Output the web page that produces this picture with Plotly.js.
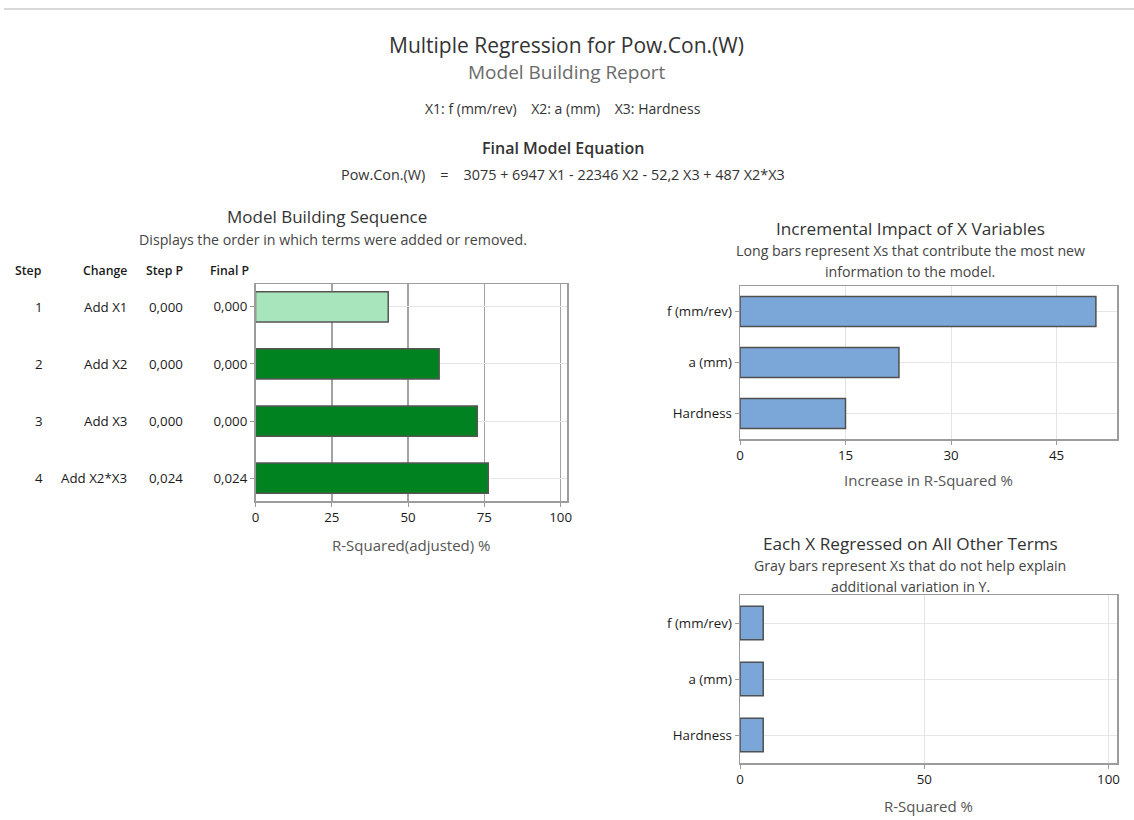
<!DOCTYPE html>
<html>
<head>
<meta charset="utf-8">
<script src="https://cdn.plot.ly/plotly-3.0.1.min.js"></script>
<style>
html,body{margin:0;padding:0;background:#fff;}
#chart{width:1134px;height:820px;}
</style>
</head>
<body>
<div id="chart"></div>
<script>
// ---- data ----
const steps = ['1', '2', '3', '4'];
const changes = ['Add X1', 'Add X2', 'Add X3', 'Add X2*X3'];
const stepP = ['0,000', '0,000', '0,000', '0,024'];
const finalP = ['0,000', '0,000', '0,000', '0,024'];
const rsqAdjusted = [43.5, 60.2, 72.7, 76.3];

const xVariables = ['f (mm/rev)', 'a (mm)', 'Hardness'];
const incrementalImpact = [50.6, 22.6, 15.0];
const rsqOnOthers = [6.3, 6.3, 6.3];

// ---- helpers ----
const W = 1134, H = 820;
const px = x => x / W;
const py = y => 1 - y / H;
const FONT = 'Open Sans, Noto Sans, sans-serif';
const stepIdx = steps.map((s, i) => i);
const NB = '&nbsp;';

const seqColors = steps.map((s, i) => i === 0 ? '#a8e5bc' : '#008220');

const traces = [
  {
    type: 'bar', orientation: 'h',
    x: rsqAdjusted, y: stepIdx,
    xaxis: 'x', yaxis: 'y',
    width: 0.53,
    marker: {color: seqColors, line: {color: '#555555', width: 1.5}},
    hoverinfo: 'x'
  },
  {
    type: 'bar', orientation: 'h',
    x: incrementalImpact, y: xVariables,
    xaxis: 'x2', yaxis: 'y2',
    width: 0.59,
    marker: {color: '#7ba6d8', line: {color: '#505050', width: 1.5}},
    hoverinfo: 'x'
  },
  {
    type: 'bar', orientation: 'h',
    x: rsqOnOthers, y: xVariables,
    xaxis: 'x3', yaxis: 'y3',
    width: 0.6,
    marker: {color: '#7ba6d8', line: {color: '#505050', width: 1.5}},
    hoverinfo: 'x'
  }
];

const tickFont = {family: FONT, size: 13.3, color: '#1a1a1a'};
const axTitleFont = {family: FONT, size: 15, color: '#555555'};
const borderColor = '#9c9c9c';

const baseX = {
  showline: true, mirror: true, linecolor: borderColor, linewidth: 1.5,
  ticks: 'outside', ticklen: 4, tickcolor: borderColor,
  tickfont: tickFont, zeroline: false, fixedrange: true
};
const baseY = {
  showline: true, mirror: true, linecolor: borderColor, linewidth: 1.5,
  ticks: 'outside', ticklen: 4, tickcolor: borderColor,
  tickfont: tickFont, zeroline: false, fixedrange: true,
  gridcolor: '#e6e6e6', gridwidth: 1
};

const annotations = [];
function txt(text, x, y, size, color, opts, weight) {
  annotations.push(Object.assign({
    text: text, x: px(x), y: py(y), xref: 'paper', yref: 'paper',
    xanchor: 'center', yanchor: 'middle', showarrow: false,
    font: {family: FONT, size: size, color: color, weight: weight || 'normal'}
  }, opts || {}));
}
const sp = n => NB.repeat(n);

// page titles
txt('Multiple Regression for Pow.Con.(W)', 566, 45, 21, '#333333');
txt('Model Building Report', 567, 72, 19, '#6b6b6b');
txt('X1: f (mm/rev)' + sp(4) + 'X2: a (mm)' + sp(4) + 'X3: Hardness', 563, 108, 14, '#333333');
txt('Final Model Equation', 563, 148, 16, '#333333', null, 600);
txt('Pow.Con.(W)' + sp(4) + '=' + sp(4) + '3075 + 6947 X1 - 22346 X2 - 52,2 X3 + 487 X2*X3', 563, 175, 14.4, '#333333');

// panel titles
txt('Model Building Sequence', 327, 216, 17, '#333333');
txt('Displays the order in which terms were added or removed.', 333, 239, 14.2, '#444444');
txt('Incremental Impact of X Variables', 910, 228, 17.2, '#333333');
txt('Long bars represent Xs that contribute the most new', 910, 250, 14.2, '#444444');
txt('information to the model.', 910, 271, 14.2, '#444444');
txt('Each X Regressed on All Other Terms', 910, 543, 17.2, '#333333');
txt('Gray bars represent Xs that do not help explain', 910, 565, 14.2, '#444444');
txt('additional variation in Y.', 910, 586, 14.2, '#444444');

// table headers
const hdrFont = 12.3;
txt('Step', 44, 270, hdrFont, '#1a1a1a', {xanchor: 'right'}, 600);
txt('Change', 129, 270, hdrFont, '#1a1a1a', {xanchor: 'right'}, 600);
txt('Step P', 185, 270, hdrFont, '#1a1a1a', {xanchor: 'right'}, 600);
txt('Final P', 251, 270, hdrFont, '#1a1a1a', {xanchor: 'right'}, 600);

// table rows, anchored to the bar axis
steps.forEach((s, i) => {
  const row = (t, x) => annotations.push({
    text: t, x: px(x), y: i, xref: 'paper', yref: 'y',
    xanchor: 'right', yanchor: 'middle', showarrow: false,
    font: tickFont
  });
  row(steps[i], 45);
  row(changes[i], 129);
  row(stepP[i], 185);
});

const layout = {
  width: W, height: H,
  margin: {l: 0, r: 0, t: 0, b: 0},
  paper_bgcolor: '#ffffff', plot_bgcolor: '#ffffff',
  showlegend: false,
  font: {family: FONT, color: '#222222'},
  bargap: 0.4,
  xaxis: Object.assign({}, baseX, {
    domain: [px(255.5), px(567)], anchor: 'y',
    range: [0, 102.1], dtick: 25, tick0: 0,
    gridcolor: '#a3a3a3', gridwidth: 1.5,
    title: {text: 'R-Squared(adjusted) %', font: axTitleFont, standoff: 15}
  }),
  yaxis: Object.assign({}, baseY, {
    domain: [py(501), py(284)], anchor: 'x',
    range: [3.4, -0.4],
    tickvals: stepIdx, ticktext: finalP
  }),
  xaxis2: Object.assign({}, baseX, {
    domain: [px(740), px(1117)], anchor: 'y2',
    range: [0, 53.6], dtick: 15, tick0: 0,
    gridcolor: '#e3e3e3', gridwidth: 1,
    title: {text: 'Increase in R-Squared %', font: axTitleFont, standoff: 12}
  }),
  yaxis2: Object.assign({}, baseY, {
    domain: [py(439), py(286)], anchor: 'x2',
    type: 'category', categoryarray: xVariables, categoryorder: 'array',
    range: [2.5, -0.5]
  }),
  xaxis3: Object.assign({}, baseX, {
    domain: [px(740), px(1117)], anchor: 'y3',
    range: [0, 102.3], dtick: 50, tick0: 0,
    gridcolor: '#e3e3e3', gridwidth: 1,
    title: {text: 'R-Squared %', font: axTitleFont, standoff: 14}
  }),
  yaxis3: Object.assign({}, baseY, {
    domain: [py(763), py(595)], anchor: 'x3',
    type: 'category', categoryarray: xVariables, categoryorder: 'array',
    range: [2.5, -0.5]
  }),
  annotations: annotations,
  shapes: [{
    type: 'line', xref: 'paper', yref: 'paper',
    x0: px(4), x1: 1, y0: py(9), y1: py(9),
    line: {color: '#d9d9d9', width: 2}
  }]
};

Plotly.newPlot('chart', traces, layout, {displayModeBar: false, staticPlot: true});
</script>
</body>
</html>
